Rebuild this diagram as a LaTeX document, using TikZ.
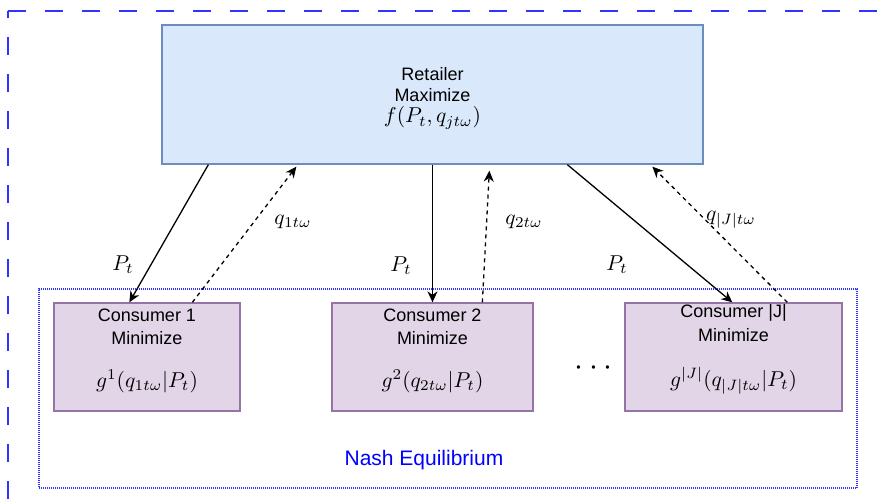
\RequirePackage{fix-cm}
\documentclass[tikz,border=0pt]{standalone}
\usepackage{fontspec}
\newfontfamily\arialfont{Liberation Sans}
\usetikzlibrary{arrows.meta}
\definecolor{outerblue}{HTML}{3333FF}
\definecolor{dotblue}{HTML}{3333FF}
\definecolor{retfill}{HTML}{DAE8FC}
\definecolor{retdraw}{HTML}{6C8EBF}
\definecolor{confill}{HTML}{E1D5E7}
\definecolor{condraw}{HTML}{9673A6}
\tikzset{
  retailerbox/.style={draw=retdraw, fill=retfill, line width=1.3pt, minimum width=541pt, minimum height=139pt, inner sep=0pt, rectangle},
  consumerbox/.style={draw=condraw, fill=confill, line width=1.3pt, minimum height=108pt, inner sep=0pt, rectangle},
  txt/.style={font=\arialfont\fontsize{18}{21}\selectfont, inner sep=0pt},
  mth/.style={font=\fontsize{10}{12}\selectfont, inner sep=0pt, scale=2.15, transform shape},
  dotsstyle/.style={font=\fontsize{10}{12}\selectfont, inner sep=0pt, scale=3.2, transform shape},
  arr/.style={line width=1.3pt, -{Stealth[length=11pt,width=10pt,inset=3.5pt]}},
  dasharr/.style={arr, dash pattern=on 4pt off 4pt},
}
\begin{document}
\begin{tikzpicture}[x=1pt,y=-1pt]
\useasboundingbox (0,0) rectangle (885,503);
\clip (0,0) rectangle (885,503);
\fill[white] (0,0) rectangle (885,503);
% outer dashed container
\draw[outerblue, line width=1.6pt, dash pattern=on 18pt off 19pt] (8,11) -- (900,11);
\draw[outerblue, line width=1.6pt, dash pattern=on 18pt off 19pt, dash phase=11pt] (8,11) -- (8,520);
% Nash equilibrium dotted container
\node[draw=dotblue, line width=1.2pt, dash pattern=on 1pt off 1pt, minimum width=818pt, minimum height=199pt, inner sep=0pt] (NE) at (448,388.5) {};
\node[txt, text=blue, font=\arialfont\fontsize{21}{24}\selectfont] (NElabel) at (424,460) {Nash Equilibrium};
% retailer
\node[retailerbox] (R) at (432.5,94.5) {};
\node[txt] (Rt1) at (432.5,74) {Retailer};
\node[txt] (Rt2) at (432.5,95) {Maximize};
\node[mth] (Rt3) at (432.5,118) {$f(P_t,q_{jt\omega})$};
% consumers
\node[consumerbox, minimum width=186pt] (C1) at (147,357) {};
\node[consumerbox, minimum width=201pt] (C2) at (432.5,357) {};
\node[consumerbox, minimum width=217pt] (C3) at (733.5,357) {};
\node[txt] (C1t1) at (147,315) {Consumer 1};
\node[txt] (C1t2) at (147,338) {Minimize};
\node[mth] (C1t3) at (147,381) {$g^1(q_{1t\omega}|P_t)$};
\node[txt] (C2t1) at (432.5,315) {Consumer 2};
\node[txt] (C2t2) at (432.5,338) {Minimize};
\node[mth] (C2t3) at (432.5,381) {$g^2(q_{2t\omega}|P_t)$};
\node[txt] (C3t1) at (733.5,313) {Consumer |J|};
\node[txt] (C3t2) at (733.5,335) {Minimize};
\node[mth] (C3t3) at (733.5,381) {$g^{|J|}(q_{|J|t\omega}|P_t)$};
\node[dotsstyle] (dots) at (593.5,368) {$\cdots$};
% connectors
\draw[arr] ([xshift=47pt]R.south west) -- ([xshift=76pt]C1.north west);
\draw[dasharr] ([xshift=139pt]C1.north west) -- ([xshift=135pt,yshift=-2pt]R.south west);
\draw[arr] (R.south) -- (C2.north);
\draw[dasharr] ([xshift=151pt]C2.north west) -- ([xshift=328pt,yshift=-6pt]R.south west);
\draw[arr] ([xshift=406pt]R.south west) -- ([xshift=108pt]C3.north west);
\draw[dasharr] ([xshift=163pt]C3.north west) -- ([xshift=491pt,yshift=-2pt]R.south west);
% labels
\node[mth] (L1) at (123,265) {$P_t$};
\node[mth] (L2) at (293,222) {$q_{1t\omega}$};
\node[mth] (L3) at (401,266) {$P_t$};
\node[mth] (L4) at (524,222) {$q_{2t\omega}$};
\node[mth] (L5) at (617,265) {$P_t$};
\node[mth] (L6) at (731,220) {$q_{|J|t\omega}$};
\end{tikzpicture}
\end{document}
